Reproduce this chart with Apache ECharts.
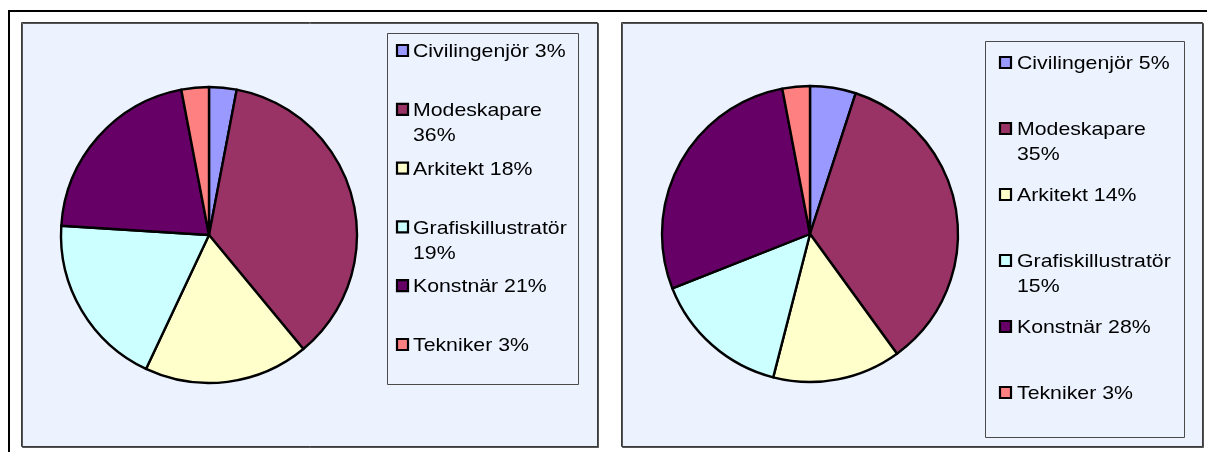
<!DOCTYPE html>
<html><head><meta charset="utf-8">
<script src="https://cdn.jsdelivr.net/npm/echarts@6/dist/echarts.min.js"></script>
<style>html,body{margin:0;padding:0;background:#fff}#c{width:1207px;height:452px}</style>
</head><body><div id="c"></div>
<script>
const categories = ['Civilingenjör', 'Modeskapare', 'Arkitekt', 'Grafiskillustratör', 'Konstnär', 'Tekniker'];
const valuesLeft = [3, 36, 18, 19, 21, 3];
const valuesRight = [5, 35, 14, 15, 28, 3];
const colors = ['#9999FF', '#993366', '#FFFFCC', '#CCFFFF', '#660066', '#FF8080'];

const BG = '#ECF3FF';
const FONT = '19px "Liberation Sans", Arial, sans-serif';
const SX = 1.12;

const mctx = document.createElement('canvas').getContext('2d');
mctx.font = FONT;
function wrapLabel(name, v, maxW) {
  const full = name + ' ' + v + '%';
  return mctx.measureText(full).width * SX > maxW ? name + '\n' + v + '%' : full;
}

function pieData(vals) {
  return categories.map((c, i) => ({ name: c, value: vals[i], itemStyle: { color: colors[i] } }));
}

function legend(vals, box, swX, txtX, y0, step, textW) {
  const els = [];
  els.push({ type: 'rect', shape: { x: box[0] + 0.5, y: box[1] + 0.5, width: box[2], height: box[3] },
    style: { fill: BG, stroke: '#4a4a4a', lineWidth: 1 }, z: 5 });
  categories.forEach((c, i) => {
    const cy = y0 + i * step;
    els.push({ type: 'rect', shape: { x: swX, y: cy - 6, width: 11, height: 11 },
      style: { fill: colors[i], stroke: '#000', lineWidth: 2.2 }, z: 6 });
    els.push({ type: 'text', x: txtX, y: cy - 11.5, scaleX: SX, z: 6,
      style: { text: wrapLabel(c, vals[i], textW), x: 0, y: 0, font: FONT, fill: '#000',
        lineHeight: 25, align: 'left', verticalAlign: 'top' } });
  });
  return els;
}

const graphic = [
  { type: 'rect', shape: { x: 9, y: 11, width: 1220, height: 460 }, style: { fill: 'none', stroke: '#000', lineWidth: 2 }, z: 0 },
  { type: 'rect', shape: { x: 21.5, y: 22.5, width: 576, height: 424 },
    style: { fill: BG, stroke: '#3a3a3a', lineWidth: 1, shadowColor: '#555', shadowOffsetX: 1, shadowOffsetY: 1, shadowBlur: 0 }, z: 0 },
  { type: 'rect', shape: { x: 621.5, y: 22.5, width: 581, height: 424 },
    style: { fill: BG, stroke: '#3a3a3a', lineWidth: 1, shadowColor: '#555', shadowOffsetX: 1, shadowOffsetY: 1, shadowBlur: 0 }, z: 0 }
].concat(
  legend(valuesLeft, [387, 33, 191, 351], 397, 413, 51, 58.8, 162),
  legend(valuesRight, [985, 41, 199, 396], 1000, 1017, 63, 66, 165)
);

const chart = echarts.init(document.getElementById('c'), null, { renderer: 'canvas' });
const pieCommon = {
  type: 'pie', radius: 148, startAngle: 90, clockwise: true, animation: false,
  label: { show: false }, labelLine: { show: false }, silent: true,
  emphasis: { disabled: true },
  itemStyle: { borderColor: '#000', borderWidth: 2.4 }, z: 3
};
chart.setOption({
  animation: false,
  backgroundColor: '#fff',
  graphic: { elements: graphic },
  series: [
    Object.assign({}, pieCommon, { name: 'left', center: [209, 235], data: pieData(valuesLeft) }),
    Object.assign({}, pieCommon, { name: 'right', center: [810, 234], data: pieData(valuesRight) })
  ]
});
</script></body></html>
